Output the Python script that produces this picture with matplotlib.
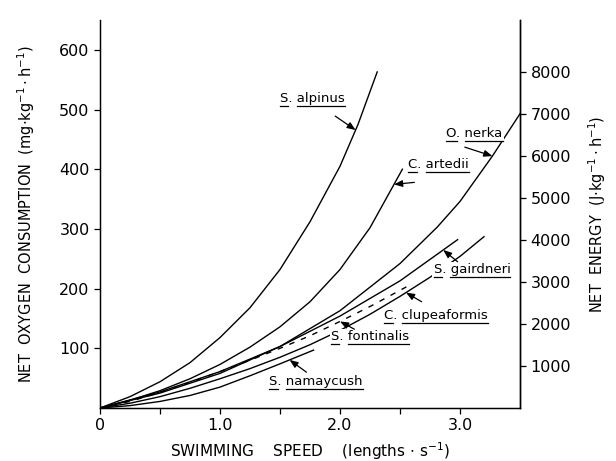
import numpy as np
import matplotlib
matplotlib.use("Agg")
import matplotlib.pyplot as plt
from matplotlib.lines import Line2D

# swimming speed (lengths/s) vs net oxygen consumption (mg/kg/h)
alpinus_x = [0, 0.25, 0.5, 0.75, 1.0, 1.25, 1.5, 1.75, 2.0, 2.15, 2.31]
alpinus_y = [0, 19, 44, 76, 118, 168, 232, 312, 405, 475, 563]

artedii_x = [0, 0.25, 0.5, 0.75, 1.0, 1.25, 1.5, 1.75, 2.0, 2.25, 2.52]
artedii_y = [0, 13, 29, 49, 73, 102, 136, 178, 232, 302, 400]

nerka_x = [0, 0.5, 1.0, 1.5, 2.0, 2.5, 2.81, 3.0, 3.27, 3.51]
nerka_y = [0, 25, 58, 103, 163, 242, 303, 346, 422, 496]

gairdneri_x = [0, 0.5, 1.0, 1.5, 2.0, 2.5, 2.98]
gairdneri_y = [0, 27, 61, 103, 154, 213, 282]

fontinalis_x = [0, 0.25, 0.5, 0.75, 1.0, 1.25, 1.5, 1.75, 2.0, 2.25, 2.6]
fontinalis_y = [0, 11, 26, 43, 61, 80, 100, 121, 145, 170, 208]

clupeaformis_x = [0, 0.25, 0.5, 0.75, 1.0, 1.25, 1.5, 1.75, 2.0, 2.25, 2.5, 2.75, 3.0, 3.2]
clupeaformis_y = [0, 8, 19, 33, 49, 66, 85, 106, 130, 157, 187, 219, 254, 287]

namaycush_x = [0, 0.25, 0.5, 0.75, 1.0, 1.25, 1.5, 1.78]
namaycush_y = [0, 4, 11, 21, 35, 54, 74, 97]

x_ticks = [0, 1.0, 2.0, 3.0]
x_tick_labels = ["0", "1.0", "2.0", "3.0"]
y_ticks = [100, 200, 300, 400, 500, 600]
energy_ticks = [1000, 2000, 3000, 4000, 5000, 6000, 7000, 8000]

J_PER_MG = 14.23  # right axis scale (J per mg O2)

plt.rcParams["font.family"] = "DejaVu Sans"

fig = plt.figure(figsize=(6.16, 4.61), dpi=100)
ax = fig.add_axes([100 / 616, 53 / 461, 420 / 616, 388 / 461])

ax.plot(alpinus_x, alpinus_y, color="k", lw=1.0)
ax.plot(artedii_x, artedii_y, color="k", lw=1.0)
ax.plot(nerka_x, nerka_y, color="k", lw=1.0)
ax.plot(gairdneri_x, gairdneri_y, color="k", lw=1.0)
ax.plot(fontinalis_x, fontinalis_y, color="k", lw=1.0, dashes=(4, 5))
ax.plot(clupeaformis_x, clupeaformis_y, color="k", lw=1.0)
ax.plot(namaycush_x, namaycush_y, color="k", lw=1.0)

ax.set_xlim(0, 3.5)
ax.set_ylim(0, 650)
ax.set_xticks(x_ticks)
ax.set_xticklabels(x_tick_labels)
ax.set_xticks([0.5, 1.5, 2.5], minor=True)
ax.set_yticks(y_ticks)
ax.tick_params(axis="both", which="both", direction="out", length=4, width=0.9,
               labelsize=11.5, colors="k")
ax.tick_params(axis="x", which="minor", length=4)
ax.spines["top"].set_visible(False)
for s in ["left", "bottom", "right"]:
    ax.spines[s].set_linewidth(1.0)

ax.set_xlabel("SWIMMING    SPEED    (lengths $\\cdot$ s$^{-1}$)", fontsize=11, labelpad=5)
ax.set_ylabel("NET  OXYGEN  CONSUMPTION  (mg$\\cdot$kg$^{-1}\\cdot$h$^{-1}$)", fontsize=10.5,
              labelpad=16)

ax2 = ax.twinx()
ax2.set_ylim(0, 650 * J_PER_MG)
ax2.set_yticks(energy_ticks)
ax2.tick_params(axis="y", direction="out", length=4, width=0.9, labelsize=11.5)
ax2.spines["top"].set_visible(False)
ax2.spines["right"].set_linewidth(1.0)
ax2.set_ylabel("NET  ENERGY  (J$\\cdot$kg$^{-1}\\cdot$h$^{-1}$)", fontsize=10.5, labelpad=11)

# species labels: (genus, species, label x, label y, arrow tail, arrow tip x, curve)
labels = [
    ("S", "alpinus", 1.77, 518, (1.96, 489), 2.13, (alpinus_x, alpinus_y)),
    ("C", "artedii", 2.82, 408, (2.62, 378), 2.45, (artedii_x, artedii_y)),
    ("O", "nerka", 3.12, 460, (3.04, 437), 3.27, (nerka_x, nerka_y)),
    ("S", "gairdneri", 3.10, 232, (2.98, 245), 2.86, (gairdneri_x, gairdneri_y)),
    ("C", "clupeaformis", 2.80, 155, (2.68, 178), 2.55, (clupeaformis_x, clupeaformis_y)),
    ("S", "fontinalis", 2.25, 120, (2.12, 132), 2.0, (fontinalis_x, fontinalis_y)),
    ("S", "namaycush", 1.80, 44, (1.72, 60), 1.58, (namaycush_x, namaycush_y)),
]

texts = []
for genus, species, lx, ly, tail, tipx, (cx, cy) in labels:
    t = ax.text(lx, ly, genus + ". " + species, fontsize=9.5, ha="center", va="center",
                zorder=5, bbox=dict(boxstyle="square,pad=0.1", fc="white", ec="none"))
    texts.append((t, genus))
    tipy = np.interp(tipx, cx, cy)
    ax.annotate("", xy=(tipx, tipy), xytext=tail, zorder=6,
                arrowprops=dict(arrowstyle="-|>,head_length=0.5,head_width=0.2",
                                color="k", lw=0.9, shrinkA=0, shrinkB=0))

# underline genus letter and species name separately
fig.canvas.draw()
r = fig.canvas.get_renderer()
for t, genus in texts:
    bb = t.get_window_extent(r)
    w_g, _, _ = r.get_text_width_height_descent(genus, t.get_fontproperties(), ismath=False)
    w_p, _, _ = r.get_text_width_height_descent(genus + ". ", t.get_fontproperties(), ismath=False)
    y0 = bb.y0 - 1
    for a, b in [(bb.x0, bb.x0 + w_g), (bb.x0 + w_p, bb.x1)]:
        fig.add_artist(Line2D([a / fig.dpi / 6.16, b / fig.dpi / 6.16],
                              [y0 / fig.dpi / 4.61, y0 / fig.dpi / 4.61],
                              transform=fig.transFigure, color="k", lw=0.9, zorder=7))

fig.savefig("out.png", dpi=100)
